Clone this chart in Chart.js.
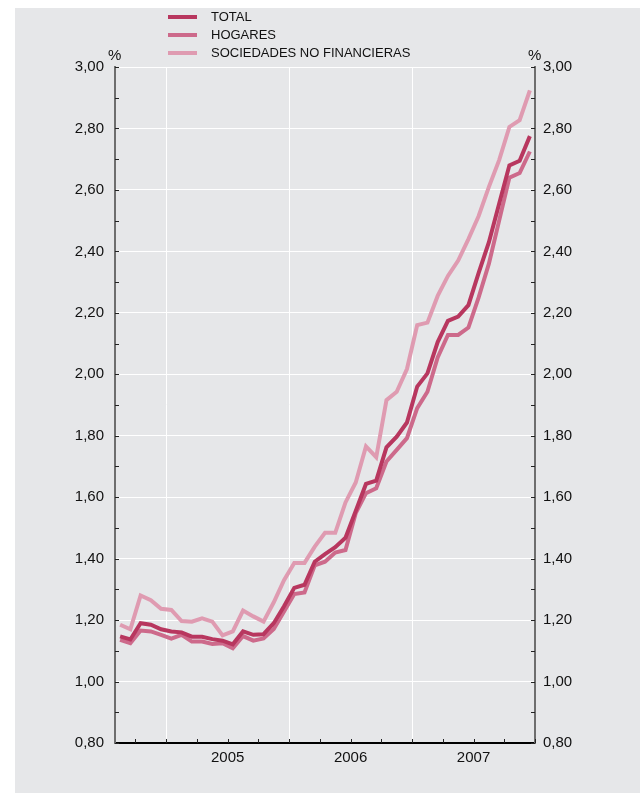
<!DOCTYPE html>
<html>
<head>
<meta charset="utf-8">
<script src="https://cdn.jsdelivr.net/npm/chart.js@4.4.1/dist/chart.umd.min.js"></script>
<style>
  html, body { margin:0; padding:0; background:#fff; }
  body { width:640px; height:793px; position:relative; overflow:hidden; font-family:"Liberation Sans", Arial, sans-serif; }
  #panel { position:absolute; left:15px; top:8px; width:625px; height:785px; background:#e6e7e9; }
  #c { position:absolute; left:0; top:0; }
  #legend { position:absolute; left:168px; top:8px; }
  .row { position:relative; height:18px; width:300px; }
  .sw { position:absolute; left:0; top:7px; width:29px; height:4px; }
  .lt { position:absolute; left:43px; top:1px; font-size:13px; line-height:15px; color:#111; white-space:nowrap; }
  .pct { position:absolute; top:47px; font-size:15px; line-height:15px; color:#111; }
</style>
</head>
<body>
<div id="panel"></div>
<canvas id="c" width="640" height="793"></canvas>
<div id="legend"></div>
<div class="pct" style="left:108px;">%</div>
<div class="pct" style="left:528px;">%</div>
<script>
// ---- data ----
const months = ['2004-08','2004-09','2004-10','2004-11','2004-12',
  '2005-01','2005-02','2005-03','2005-04','2005-05','2005-06','2005-07','2005-08','2005-09','2005-10','2005-11','2005-12',
  '2006-01','2006-02','2006-03','2006-04','2006-05','2006-06','2006-07','2006-08','2006-09','2006-10','2006-11','2006-12',
  '2007-01','2007-02','2007-03','2007-04','2007-05','2007-06','2007-07','2007-08','2007-09','2007-10','2007-11','2007-12'];
const total = [1.147,1.137,1.19,1.185,1.17,1.163,1.16,1.146,1.146,1.138,
  1.133,1.121,1.163,1.152,1.154,1.19,1.245,1.305,1.315,1.39,
  1.415,1.437,1.468,1.555,1.643,1.654,1.762,1.797,1.843,1.96,
  2.003,2.105,2.174,2.188,2.225,2.33,2.43,2.555,2.68,2.695,
  2.775];
const hogares = [1.136,1.125,1.166,1.163,1.152,1.14,1.152,1.13,1.13,1.122,
  1.125,1.108,1.148,1.133,1.14,1.171,1.228,1.285,1.29,1.378,
  1.39,1.42,1.428,1.548,1.613,1.629,1.716,1.754,1.792,1.89,
  1.943,2.055,2.128,2.128,2.152,2.25,2.36,2.5,2.64,2.655,
  2.725];
const sociedades = [1.185,1.17,1.28,1.265,1.237,1.233,1.197,1.195,1.206,1.195,
  1.15,1.163,1.231,1.212,1.195,1.258,1.33,1.386,1.386,1.439,
  1.484,1.484,1.583,1.648,1.765,1.73,1.916,1.943,2.017,2.16,
  2.168,2.255,2.32,2.37,2.44,2.515,2.61,2.697,2.805,2.827,
  2.924];
const seriesNames = ['TOTAL','HOGARES','SOCIEDADES NO FINANCIERAS'];
const yearLabels = ['2005','2006','2007'];
const yTickLabels = ['0,80','1,00','1,20','1,40','1,60','1,80','2,00','2,20','2,40','2,60','2,80','3,00'];
const colors = ['#b8375f','#cd6a8b','#df9bb1'];

// month index relative to January 2005, centred in the month
function monthPos(m){ const [y,mo] = m.split('-').map(Number); return (y-2005)*12 + (mo-1) + 0.5; }
const toPts = arr => arr.map((v,i)=>({x: monthPos(months[i]), y: v}));
const yearStart = yr => (Number(yr)-2005)*12;
const yVals = yTickLabels.map(s => parseFloat(s.replace(',','.')));
const xMin = monthPos(months[0]) - 0.5, xMax = monthPos(months[months.length-1]) + 0.5;

// legend (HTML)
const leg = document.getElementById('legend');
seriesNames.forEach((n,i)=>{
  const r = document.createElement('div'); r.className='row';
  r.innerHTML = '<div class="sw" style="background:'+colors[i]+'"></div><div class="lt">'+n+'</div>';
  leg.appendChild(r);
});

Chart.defaults.font.family = '"Liberation Sans", Arial, sans-serif';
Chart.defaults.color = '#111';

const innerTicks = {
  id:'innerTicks',
  afterDatasetsDraw(chart){
    const {ctx, chartArea:a, scales} = chart;
    ctx.save();
    ctx.strokeStyle = '#222'; ctx.lineWidth = 1;
    const y = scales.y;
    for (let k=0; k<=22; k++){
      const v = 0.8 + k*0.1;
      const py = Math.round(y.getPixelForValue(v)) + 0.5;
      ctx.beginPath(); ctx.moveTo(a.left, py); ctx.lineTo(a.left+4, py); ctx.stroke();
      ctx.beginPath(); ctx.moveTo(a.right-4, py); ctx.lineTo(a.right, py); ctx.stroke();
    }
    const x = scales.x;
    for (let m = yearStart(yearLabels[0]) - 3; m <= xMax; m += 3){
      const px = Math.round(x.getPixelForValue(m)) + 0.5;
      ctx.beginPath(); ctx.moveTo(px, a.bottom); ctx.lineTo(px, a.bottom-4); ctx.stroke();
    }
    ctx.restore();
  }
};

const mkDs = (label, arr, col, w) => ({
  label, data: toPts(arr), borderColor: col, backgroundColor: col,
  borderWidth: w, pointRadius: 0, tension: 0, fill: false, borderJoinStyle: 'miter'
});

new Chart(document.getElementById('c'), {
  type: 'line',
  data: { datasets: [
    mkDs(seriesNames[0], total, colors[0], 4),
    mkDs(seriesNames[1], hogares, colors[1], 4),
    mkDs(seriesNames[2], sociedades, colors[2], 4)
  ]},
  options: {
    responsive:false, animation:false, devicePixelRatio:1,
    layout:{ padding:{ top:67 } },
    plugins:{ legend:{display:false}, tooltip:{enabled:false} },
    scales:{
      x:{
        type:'linear', min:xMin, max:xMax,
        afterBuildTicks(s){
          const t=[]; for (let m = yearStart(yearLabels[0]) - 3; m <= xMax; m += 3) t.push({value:m});
          s.ticks = t;
        },
        afterFit(s){ s.height = 50; },
        grid:{
          drawTicks:false, lineWidth:1,
          color(ctx){ const v = ctx.tick && ctx.tick.value;
            return (yearLabels.some(yr => yearStart(yr) === v) ) ? '#ffffff' : 'rgba(0,0,0,0)'; }
        },
        border:{ display:true, color:'#000', width:2 },
        ticks:{
          autoSkip:false, maxRotation:0, padding:6, font:{size:15},
          callback(v){ const yr = yearLabels.find(y => yearStart(y)+6 === v); return yr || ''; }
        }
      },
      y:{
        position:'left', min:0.8, max:3.0,
        afterBuildTicks(s){ s.ticks = yVals.map(v=>({value:v})); },
        afterFit(s){ s.width = 115; },
        grid:{ drawTicks:false, lineWidth:1,
          color(ctx){ const v = ctx.tick && ctx.tick.value; return (v > 0.85) ? '#ffffff' : 'rgba(0,0,0,0)'; } },
        border:{ display:true, color:'#6e6e6e', width:2 },
        ticks:{ padding:11, font:{size:15},
          callback(v){ const i = yVals.findIndex(t => Math.abs(t-v) < 1e-6); return i>=0 ? yTickLabels[i] : ''; } }
      },
      y2:{
        position:'right', min:0.8, max:3.0,
        afterBuildTicks(s){ s.ticks = yVals.map(v=>({value:v})); },
        afterFit(s){ s.width = 105; },
        grid:{ display:false, drawTicks:false },
        border:{ display:true, color:'#6e6e6e', width:2 },
        ticks:{ padding:8, font:{size:15},
          callback(v){ const i = yVals.findIndex(t => Math.abs(t-v) < 1e-6); return i>=0 ? yTickLabels[i] : ''; } }
      }
    }
  },
  plugins:[innerTicks]
});
</script>
</body>
</html>
